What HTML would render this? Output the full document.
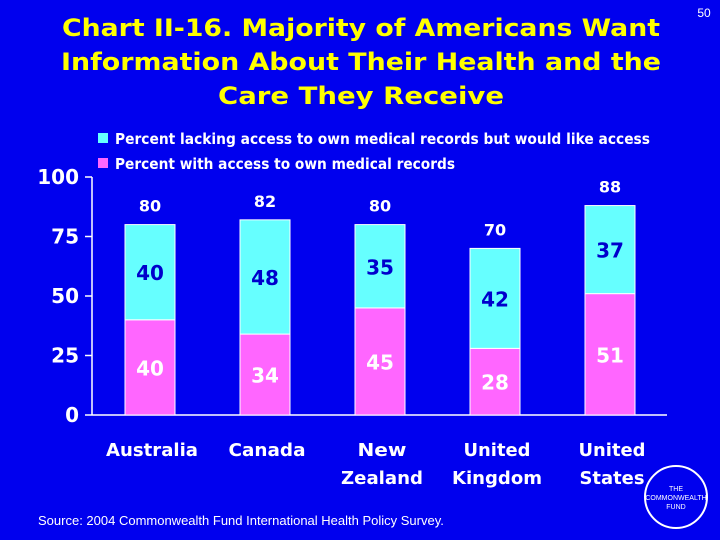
<!DOCTYPE html>
<html><head><meta charset="utf-8"><style>
body{margin:0;width:720px;height:540px;background:#0000ee;overflow:hidden;font-family:"Liberation Sans",Arial,sans-serif}
</style></head><body>
<svg width="720" height="540" xmlns="http://www.w3.org/2000/svg" style="display:block">
<rect width="720" height="540" fill="#0000ee"/>
<g font-family="DejaVu Sans, sans-serif" font-weight="bold" fill="#ffff00" font-size="24" text-anchor="middle">
<text x="361" y="36" textLength="598" lengthAdjust="spacingAndGlyphs">Chart II-16. Majority of Americans Want</text>
<text x="361" y="70" textLength="600" lengthAdjust="spacingAndGlyphs">Information About Their Health and the</text>
<text x="361" y="104" textLength="286" lengthAdjust="spacingAndGlyphs">Care They Receive</text>
</g>
<text x="704" y="17" fill="#fff" font-size="12" text-anchor="middle">50</text>
<g font-family="DejaVu Sans, sans-serif" font-size="15" font-weight="bold" fill="#fff">
<rect x="98" y="133" width="10" height="10" fill="#66ffff"/>
<text x="115" y="144" textLength="535" lengthAdjust="spacingAndGlyphs">Percent lacking access to own medical records but would like access</text>
<rect x="98" y="158" width="10" height="10" fill="#ff66ff"/>
<text x="115" y="169" textLength="340" lengthAdjust="spacingAndGlyphs">Percent with access to own medical records</text>
</g>
<g id="plot" font-family="DejaVu Sans, sans-serif"></g>
<g font-size="11" fill="#fff" text-anchor="middle">
<circle cx="676" cy="497" r="31" fill="#0000ee" stroke="#fff" stroke-width="2"/>
<text x="676" y="491" font-size="7">THE</text>
<text x="676" y="500" font-size="7">COMMONWEALTH</text>
<text x="676" y="509" font-size="7">FUND</text>
</g>
<text x="38" y="525" fill="#fff" font-size="13">Source: 2004 Commonwealth Fund International Health Policy Survey.</text>
</svg>
<script>
const categories=[["Australia"],["Canada"],["New","Zealand"],["United","Kingdom"],["United","States"]];
const withAccess=[40,34,45,28,51];
const lacking=[40,48,35,42,37];
const totals=[80,82,80,70,88];
const yTicks=[0,25,50,75,100];
const labelWidth={Australia:92,Canada:77,New:49,Zealand:82,United:67,Kingdom:90,States:65};
const NS="http://www.w3.org/2000/svg";
const g=document.getElementById('plot');
const y0=415,y1=177,x0=92,step=115,bw=50;
const y=v=>y0-(y0-y1)*v/100;
const cx=i=>x0+58+i*step;
function el(t,a,txt){const e=document.createElementNS(NS,t);for(const k in a)e.setAttribute(k,a[k]);if(txt!==undefined)e.textContent=txt;g.appendChild(e);return e;}
let ax=el('line',{x1:x0,y1:y0,x2:x0+575,y2:y0,stroke:'#fff','stroke-width':1.5});


let ay=el('line',{x1:x0,y1:y0,x2:x0,y2:y1,stroke:'#fff','stroke-width':1.5});


yTicks.forEach(v=>{
 let t=el('line',{x1:x0-7,y1:y(v),x2:x0,y2:y(v),stroke:'#fff','stroke-width':1.5});
 
 
 let l=el('text',{x:x0-13,y:y(v)+7,fill:'#fff','font-size':20,'font-weight':'bold','text-anchor':'end'},v);
 
 
});
categories.forEach((c,i)=>{
 const x=cx(i)-bw/2;
 let b1=el('rect',{x:x,y:y(withAccess[i]),width:bw,height:y0-y(withAccess[i]),fill:'#ff66ff',stroke:'#fff','stroke-width':1});
 
 
 const top=withAccess[i]+lacking[i];
 let b2=el('rect',{x:x,y:y(top),width:bw,height:y(withAccess[i])-y(top),fill:'#66ffff',stroke:'#fff','stroke-width':1});
 
 
 let l1=el('text',{x:cx(i),y:(y0+y(withAccess[i]))/2+8,fill:'#fff','font-size':20,'font-weight':'bold','text-anchor':'middle'},withAccess[i]);
 
 
 let l2=el('text',{x:cx(i),y:(y(withAccess[i])+y(top))/2+8,fill:'#0000cc','font-size':20,'font-weight':'bold','text-anchor':'middle'},lacking[i]);
 
 
 let l3=el('text',{x:cx(i),y:y(totals[i])-13,fill:'#fff','font-size':16,'font-weight':'bold','text-anchor':'middle'},totals[i]);
 
 
 c.forEach((w,j)=>{
  const a={x:cx(i)+2,y:456+j*28,fill:'#fff','font-size':18,'font-weight':'bold','text-anchor':'middle',lengthAdjust:'spacingAndGlyphs'};
  a.textLength=labelWidth[w]||Math.round(w.length*11.3);
  let t=el('text',a,w);
  
  
 });
});
</script>
</body></html>
